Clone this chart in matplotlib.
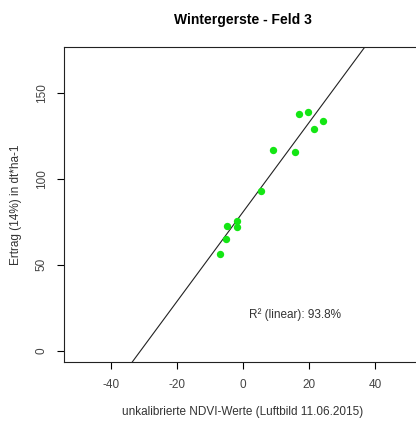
import matplotlib
matplotlib.use("Agg")
import matplotlib.pyplot as plt

plt.rcParams["font.family"] = ["Liberation Sans", "DejaVu Sans"]
plt.rcParams["axes.unicode_minus"] = False

# NDVI values (uncalibrated) and yield (14%) in dt/ha
ndvi = [16.9, 19.8, 24.2, 21.6, 9.1, 15.8, 5.4, -1.8, -4.9, -1.9, -5.1, -7.0]
ertrag = [138.0, 139.2, 134.0, 129.2, 116.9, 115.6, 92.8, 75.8, 72.9, 72.3, 65.1, 56.3]

# regression line
intercept = 80.8
slope = 2.612
r2_text = "R² (linear): 93.8%"

x_ticks = [-40, -20, 0, 20, 40]
y_ticks = [0, 50, 100, 150]

fig = plt.figure(figsize=(4.16, 4.21), dpi=100)
ax = fig.add_axes([0.1546, 0.1394, 0.859, 0.7482])

ax.axline((0, intercept), slope=slope, color="#222222", lw=0.8)
ax.scatter(ndvi, ertrag, s=28, color="#14e614", zorder=3, linewidths=0)

ax.set_xlim(-54, 54)
ax.set_ylim(-6.8, 176.8)
ax.set_xticks(x_ticks)
ax.set_yticks(y_ticks)
ax.set_yticklabels([str(v) for v in y_ticks], rotation=90, va="center")
ax.tick_params(direction="out", length=5, width=0.8, labelsize=8.5,
               labelcolor="#444444", pad=7)
for s in ax.spines.values():
    s.set_linewidth(0.8)
    s.set_color("#222222")

ax.text(15.6, 20.8, r2_text, ha="center", va="center", fontsize=8.5, color="#333333")

ax.set_xlabel("unkalibrierte NDVI-Werte (Luftbild 11.06.2015)", fontsize=8.5,
              color="#333333", labelpad=11)
ax.set_ylabel("Ertrag (14%) in dt*ha-1", fontsize=8.5, color="#333333", labelpad=10)
fig.text(243 / 416, 1 - 20 / 421, "Wintergerste - Feld 3", ha="center", va="center",
         fontsize=10, fontweight="bold")

fig.savefig("out.png", dpi=100)
